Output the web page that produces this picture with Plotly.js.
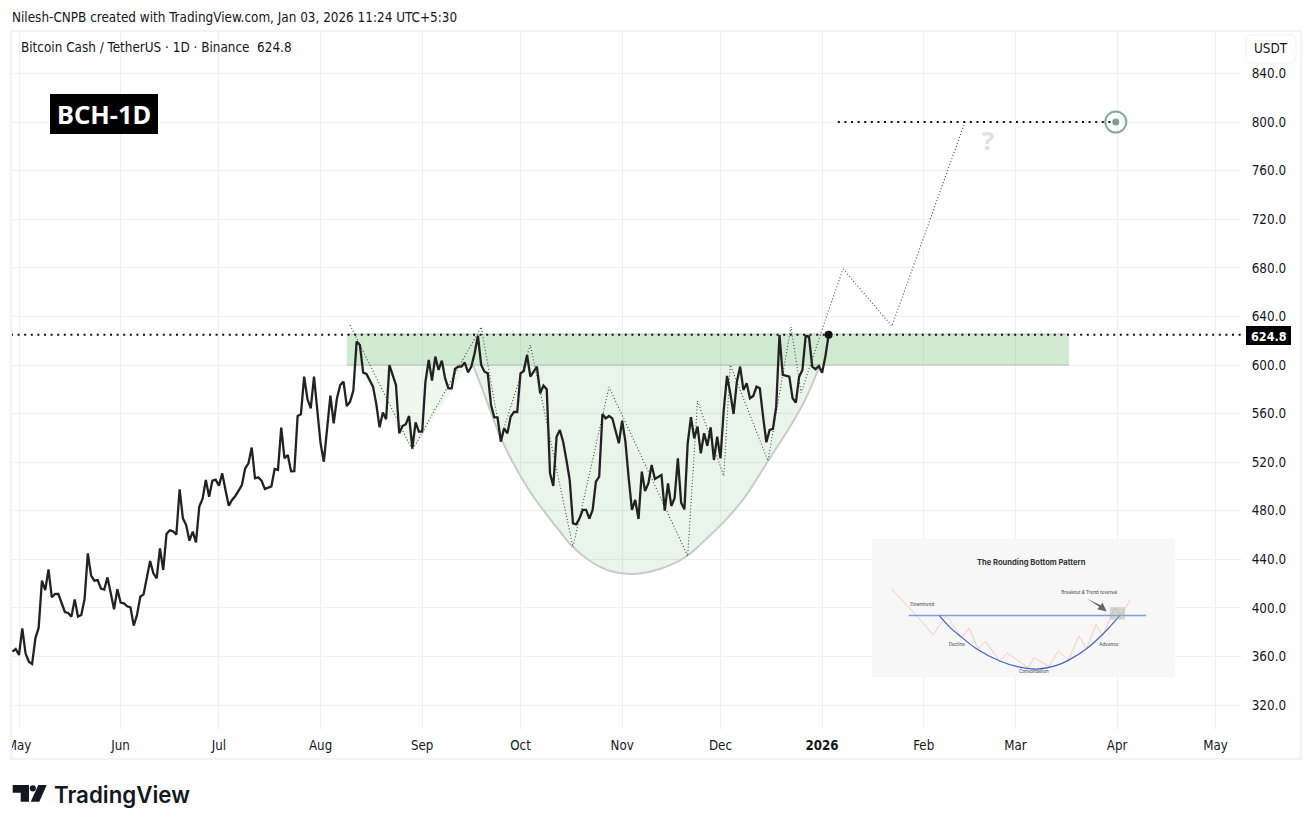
<!DOCTYPE html>
<html>
<head>
<meta charset="utf-8">
<script src="https://cdn.plot.ly/plotly-3.0.1.min.js"></script>
<style>
html,body{margin:0;padding:0;background:#fff;overflow:hidden}
#chart{position:absolute;left:0;top:0;width:1312px;height:828px}
#frame{position:absolute;left:10px;top:30px;width:1288px;height:726px;border:2px solid #f2f3f5;pointer-events:none;z-index:5}
#mask{position:absolute;left:0;top:730px;width:10px;height:30px;background:#fff;z-index:5}
</style>
</head>
<body>
<div id="chart"></div>
<div id="mask"></div>
<div id="frame"></div>
<script>
// ---- values ----
// daily closes, first value is 2025-04-29, last is 2026-01-03
var closes = [
364.1,366.2,361.3,383.2,362.7,355.8,353.9,375.0,383.8,422.5,414.8,431.8,408.8,411.5,411.5,403.3,396.7,395.9,392.9,407.1,
392.9,394.2,407.1,445.0,426.6,422.5,423.0,415.9,415.1,425.2,410.7,398.9,415.4,404.4,403.8,401.4,400.5,385.5,394.2,409.3,
411.2,424.4,438.7,428.5,424.4,449.1,431.3,460.9,463.9,463.1,460.3,497.7,473.8,468.3,455.4,462.8,454.0,483.4,489.7,505.3,
491.6,504.8,505.6,500.7,510.8,497.1,484.2,488.9,492.2,496.6,501.2,514.9,519.1,532.0,506.7,507.5,504.8,497.9,499.0,500.1,
514.4,513.6,548.4,523.2,525.9,512.5,512.7,558.0,559.4,590.4,572.0,564.3,590.4,563.0,535.5,520.4,546.5,574.8,552.0,572.6,
583.5,586.3,566.2,569.8,578.9,619.2,616.5,593.7,592.6,587.1,582.2,567.9,548.7,560.8,555.3,600.0,591.8,583.5,543.8,549.8,
551.2,558.0,531.4,552.8,545.2,545.2,586.3,604.1,587.1,606.9,595.9,603.6,589.0,580.8,580.8,596.7,598.7,598.7,602.0,594.0,
598.7,609.6,624.2,600.0,594.5,593.2,567.1,557.0,556.7,536.9,547.9,543.8,557.5,561.3,561.3,593.2,595.1,608.3,590.4,594.5,
598.7,576.7,583.0,580.0,510.9,500.4,541.0,546.5,536.9,521.8,505.4,469.7,468.9,473.8,480.7,480.7,473.6,480.7,504.0,508.1,
559.7,556.1,558.0,556.1,545.2,535.6,554.2,536.9,506.8,480.7,488.9,473.3,512.2,496.3,502.6,517.7,506.2,508.1,509.5,480.1,
502.6,484.0,490.3,523.2,486.7,481.2,535.6,557.0,539.7,549.3,527.3,543.8,533.4,548.7,521.8,541.0,523.2,563.0,591.0,576.7,
559.7,586.3,598.7,579.5,585.0,572.6,574.5,582.2,580.8,557.5,536.4,546.5,547.4,565.7,624.7,591.8,591.0,590.4,572.6,569.0,
590.4,595.9,623.9,623.4,598.7,596.5,599.2,593.7,606.9,624.8
];
var firstCloseDay = -2; // days relative to 2025-05-01
// dotted projection path: day offsets and prices
var pathDays   = [101,120,141,147,156,169,180,204,207,215,217,228.5,235.5,238.6,246.8,251.4,266.3,288.6];
var pathPrices = [632.9,530,631.3,540,616.5,450.2,581.9,442.8,570.4,508.6,600,521,631.3,577,643.6,679,632,800];
// rounding bottom outline
var cupDays   = [138.5,141.2,143.7,146.7,149.8,152.8,156.8,161.1,165.1,168.7,174.2,180.3,187.3,195.5,203.8,209.3,215.4,221.5,228.5,235.2,239.8,244.4];
var cupPrices = [600,581.1,563,541.6,524.3,509.5,492.2,476.5,462.8,451,438.7,430.5,428,432.1,442.8,456,471.9,491.4,521,549.2,571.2,600];
// first dip triangle
var dipDays   = [103,120,137];
var dipPrices = [600,529,600];
// zone and levels
var zoneLow = 600, zoneHigh = 625.5, zoneFromDay = 100, zoneToDay = 320.3;
var lastPrice = 624.8, target = 800, targetFromDay = 249.8, targetDay = 334.6;
// axis labels
var monthDates = ['2025-05-01','2025-06-01','2025-07-01','2025-08-01','2025-09-01','2025-10-01','2025-11-01','2025-12-01','2026-01-01','2026-02-01','2026-03-01','2026-04-01','2026-05-01'];
var monthLabels = ['May','Jun','Jul','Aug','Sep','Oct','Nov','Dec','<b>2026</b>','Feb','Mar','Apr','May'];
var priceTicks = [320,360,400,440,480,520,560,600,640,680,720,760,800,840];
// inset diagram, in its own 0-based picture scale
var insetPanelX = [37,945,945,37,37], insetPanelY = [25,25,440,440,25];
var insetPinkX = [95,170,220,260,305,328,355,377,420,442,505,523,567,595,625,657,680,708,728,765,785,810];
var insetPinkY = [175,255,313,255,320,293,355,333,392,368,412,382,408,362,390,317,355,283,315,232,255,208];
var insetCurveX = [238,270,305,350,420,470,530,590,625,680,730,780];
var insetCurveY = [255,290,320,355,392,408,416,405,390,355,310,255];
var insetLevelX = [147,858], insetLevelY = [255,255];
var insetArrowX = [682,722,728,740,712,718,682];
var insetArrowY = [205,224,217,243,236,229,205];
var insetBoxX = [750,795,795,750,750], insetBoxY = [230,230,267,267,230];
var insetLabels = ['The Rounding Bottom Pattern','Downtrend','Decline','Consolidation','Advance','Breakout &amp; Trend reversal'];
var insetLabelX = [514,187,291,522,747,688];
var insetLabelY = [98,222,344,426,343,188];

// ---- helpers ----
var FONT = '"DejaVu Sans Condensed","Noto Sans",sans-serif';
var TXT = '#131722';
function dateOf(d){ return new Date(Date.UTC(2025,4,1)+Math.round(d*864e5)).toISOString().slice(0,19); }
function PX(x){ return (x-11)/1230; }
function PY(y){ return (729-y)/698; }
function pathOf(pts){ return 'M'+pts.map(function(p){return PX(p[0])+','+PY(p[1]);}).join('L')+'Z'; }
var closeDates = closes.map(function(v,i){ return dateOf(firstCloseDay+i); });

var traces = [
 {x:dipDays.map(dateOf), y:dipPrices, mode:'none', fill:'toself', fillcolor:'rgba(76,175,80,0.09)', hoverinfo:'skip'},
 {x:cupDays.map(dateOf), y:cupPrices, mode:'lines', fill:'toself', fillcolor:'rgba(76,175,80,0.12)',
  line:{color:'rgba(0,0,0,0)',width:0,shape:'spline',smoothing:1}, hoverinfo:'skip'},
 {x:cupDays.map(dateOf), y:cupPrices, mode:'lines',
  line:{color:'#c8ccc8',width:2,shape:'spline',smoothing:1}, hoverinfo:'skip'},
 {x:pathDays.map(dateOf), y:pathPrices, mode:'lines', line:{color:'#444',width:1.1,dash:'1px,2.2px'}, hoverinfo:'skip'},
 {x:[dateOf(-2.44),dateOf(372.8)], y:[lastPrice,lastPrice], mode:'lines', line:{color:'#111',width:2,dash:'2px,4.6px'}, hoverinfo:'skip'},
 {x:[dateOf(targetFromDay),dateOf(targetDay)], y:[target,target], mode:'lines', line:{color:'#111',width:2,dash:'2px,4.6px'}, hoverinfo:'skip'},
 {x:closeDates, y:closes, mode:'lines', line:{color:'#222',width:2.3}, hoverinfo:'skip'},
 {x:[closeDates[closeDates.length-1]], y:[lastPrice], mode:'markers', marker:{color:'#111',size:8}, hoverinfo:'skip'},
 {x:[dateOf(targetDay)], y:[target], mode:'markers', marker:{symbol:'circle-open',size:21,color:'#83ab9b',line:{width:2,color:'#83ab9b'}}, hoverinfo:'skip'},
 {x:[dateOf(targetDay)], y:[target], mode:'markers', marker:{color:'#7a9e90',size:7}, hoverinfo:'skip'},
 // inset
 {x:insetPanelX, y:insetPanelY, xaxis:'x2', yaxis:'y2', mode:'none', fill:'toself', fillcolor:'#f7f7f7', hoverinfo:'skip'},
 {x:insetPinkX, y:insetPinkY, xaxis:'x2', yaxis:'y2', mode:'lines', line:{color:'#f8c9c5',width:1}, hoverinfo:'skip'},
 {x:insetLevelX, y:insetLevelY, xaxis:'x2', yaxis:'y2', mode:'lines', line:{color:'#7f9bdb',width:1.5}, hoverinfo:'skip'},
 {x:insetCurveX, y:insetCurveY, xaxis:'x2', yaxis:'y2', mode:'lines', line:{color:'#3f63c9',width:1.2,shape:'spline'}, hoverinfo:'skip'},
 {x:insetBoxX, y:insetBoxY, xaxis:'x2', yaxis:'y2', mode:'none', fill:'toself', fillcolor:'rgba(170,180,170,0.5)', hoverinfo:'skip'},
 {x:insetArrowX, y:insetArrowY, xaxis:'x2', yaxis:'y2', mode:'none', fill:'toself', fillcolor:'#666', hoverinfo:'skip'},
 {x:insetLabelX.slice(1), y:insetLabelY.slice(1), text:insetLabels.slice(1), xaxis:'x2', yaxis:'y2', mode:'text',
  textposition:'middle center', textfont:{family:'Inter,sans-serif',size:4.6,color:'#444'}, hoverinfo:'skip'},
 {x:insetLabelX.slice(0,1), y:insetLabelY.slice(0,1), text:insetLabels.slice(0,1).map(function(s){return '<b>'+s+'</b>';}), xaxis:'x2', yaxis:'y2', mode:'text',
  textposition:'middle center', textfont:{family:'Inter,sans-serif',size:7.6,color:'#333'}, hoverinfo:'skip'}
];

function note(text,x,y,opts){
  var o = {text:text,x:PX(x),y:PY(y),xref:'paper',yref:'paper',showarrow:false,xanchor:'left',yanchor:'middle',
    font:{family:FONT,size:13.4,color:TXT}};
  for(var k in (opts||{})) o[k]=opts[k];
  return o;
}

var layout = {
 width:1312,height:828,
 margin:{l:11,r:71,t:31,b:99,pad:0},
 paper_bgcolor:'#fff',plot_bgcolor:'#fff',
 showlegend:false,
 xaxis:{type:'date',range:[dateOf(-2.44),dateOf(372.8)],tickmode:'array',tickvals:monthDates,ticktext:monthLabels,
   showgrid:true,gridcolor:'#f0f0f0',gridwidth:1,zeroline:false,showline:false,ticks:'outside',ticklen:4,tickcolor:'rgba(0,0,0,0)',
   tickangle:0,tickfont:{family:FONT,size:13.2,color:TXT},fixedrange:true},
 yaxis:{side:'right',range:[300.4,874.9],tickmode:'array',tickvals:priceTicks,tickformat:'.1f',
   showgrid:true,gridcolor:'#f0f0f0',gridwidth:1,zeroline:false,showline:false,ticks:'outside',ticklen:7,tickcolor:'rgba(0,0,0,0)',
   tickfont:{family:FONT,size:13.4,color:TXT},fixedrange:true},
 xaxis2:{domain:[PX(872),PX(1175)],range:[37,945],anchor:'y2',visible:false,fixedrange:true},
 yaxis2:{domain:[PY(677),PY(539)],range:[440,25],anchor:'x2',visible:false,fixedrange:true},
 shapes:[
  {type:'rect',layer:'between',xref:'x',yref:'y',x0:dateOf(zoneFromDay),x1:dateOf(zoneToDay),y0:zoneLow,y1:zoneHigh,fillcolor:'rgba(76,175,80,0.26)',line:{width:0}},
  {type:'line',layer:'between',xref:'x',yref:'y',x0:dateOf(zoneFromDay),x1:dateOf(zoneToDay),y0:zoneLow,y1:zoneLow,line:{color:'#b4bdb5',width:1.2}},
  {type:'line',layer:'between',xref:'x',yref:'y',x0:dateOf(zoneFromDay),x1:dateOf(zoneToDay),y0:zoneHigh,y1:zoneHigh,line:{color:'#c4c9c5',width:1.2}},
  // badge and price label boxes
  {type:'rect',xref:'paper',yref:'paper',x0:PX(50),x1:PX(158),y0:PY(134),y1:PY(94),fillcolor:'#000',line:{width:0}},
  {type:'rect',xref:'paper',yref:'paper',x0:PX(1246),x1:PX(1291),y0:PY(345),y1:PY(326),fillcolor:'#000',line:{width:0}},
  // USDT button
  {type:'path',xref:'paper',yref:'paper',line:{color:'#f0f1f3',width:1},fillcolor:'#fff',
   path:pathOf([[1249,35],[1293,35],[1296,38],[1296,60],[1293,63],[1249,63],[1246,60],[1246,38]])},
  // logo
  {type:'path',xref:'paper',yref:'paper',line:{width:0},fillcolor:TXT,
   path:pathOf([[12.7,785],[29,785],[29,801.7],[20.7,801.7],[20.7,792.7],[12.7,792.7]])},
  {type:'path',xref:'paper',yref:'paper',line:{width:0},fillcolor:TXT,
   path:pathOf([[38.3,785],[46.7,785],[39.3,801.7],[30.7,801.7]])},
  {type:'circle',xref:'paper',yref:'paper',line:{width:0},fillcolor:TXT,x0:PX(29.7),x1:PX(35.9),y0:PY(791.4),y1:PY(785.2)}
 ],
 annotations:[
  note('Nilesh-CNPB created with TradingView.com, Jan 03, 2026 11:24 UTC+5:30',10,17),
  note('Bitcoin Cash / TetherUS · 1D · Binance&nbsp;&nbsp;624.8',19,48),
  note('<b>BCH-1D</b>',104,114,{xanchor:'center',font:{family:'"Noto Sans",sans-serif',size:25.5,color:'#fff'}}),
  note('USDT',1271,49,{xanchor:'center'}),
  note('<b>624.8</b>',1268.5,336,{xanchor:'center',font:{family:FONT,size:12.5,color:'#fff'}}),
  note('<b>?</b>',988,140,{xanchor:'center',font:{family:'"Noto Sans",sans-serif',size:25,color:'#dedfe1'}}),
  note('TradingView',52,794,{font:{family:'Inter,sans-serif',size:22.3,weight:600,color:TXT}})
 ]
};
Plotly.newPlot('chart',traces,layout,{displayModeBar:false,staticPlot:true});
</script>
</body>
</html>
